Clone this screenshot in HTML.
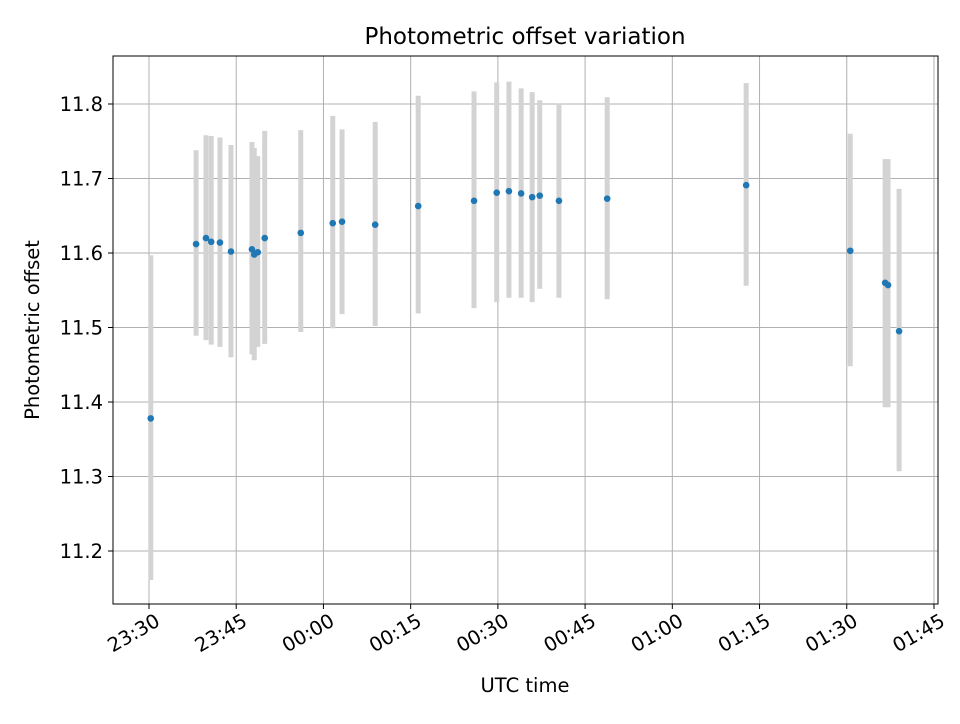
<!DOCTYPE html>
<html><head><meta charset="utf-8"><style>
body{margin:0;background:#fff;font-family:"DejaVu Sans","Liberation Sans",sans-serif}
svg text{font-family:"DejaVu Sans","Liberation Sans",sans-serif}
</style></head><body>
<svg id="chart" width="960" height="720" xmlns="http://www.w3.org/2000/svg">
<rect width="960" height="720" fill="#fff"/>
<g id="grid"></g><g id="bars"></g><g id="pts"></g><g id="axes"></g>
<text x="525" y="44" font-size="23" text-anchor="middle">Photometric offset variation</text>
<text x="525" y="692" font-size="19.5" text-anchor="middle">UTC time</text>
<text transform="translate(39,330) rotate(-90)" font-size="19.5" text-anchor="middle">Photometric offset</text>
</svg>
<script>
// minutes after 23:30 UTC
const times=[0.3,8.1,9.8,10.7,12.2,14.1,17.7,18.1,18.7,19.9,26.1,31.6,33.2,38.9,46.3,55.9,59.8,61.9,64.0,65.9,67.2,70.5,78.8,102.7,120.6,126.6,127.1,129.0];
const offsets=[11.378,11.612,11.62,11.615,11.614,11.602,11.605,11.598,11.601,11.62,11.627,11.64,11.642,11.638,11.663,11.67,11.681,11.683,11.68,11.675,11.677,11.67,11.673,11.691,11.603,11.56,11.557,11.495];
const errHigh=[11.597,11.738,11.758,11.757,11.755,11.745,11.749,11.741,11.73,11.764,11.765,11.784,11.766,11.776,11.811,11.817,11.829,11.83,11.821,11.816,11.805,11.801,11.809,11.828,11.76,11.726,11.726,11.686];
const errLow=[11.161,11.489,11.483,11.477,11.474,11.46,11.464,11.456,11.474,11.478,11.494,11.499,11.518,11.502,11.519,11.526,11.534,11.54,11.54,11.534,11.552,11.54,11.538,11.556,11.448,11.393,11.393,11.307];
const xTickLabels=["23:30","23:45","00:00","00:15","00:30","00:45","01:00","01:15","01:30","01:45"];
const yTickLabels=["11.2","11.3","11.4","11.5","11.6","11.7","11.8"];

const L=113,R=938,T=56,B=604;
const X=m=>149+m*(87.22/15);
const Y=v=>551-(v-11.2)*745;
const NS="http://www.w3.org/2000/svg";
function mk(parent,tag,attrs){const e=document.createElementNS(NS,tag);for(const k in attrs)e.setAttribute(k,attrs[k]);document.getElementById(parent).appendChild(e);return e;}

xTickLabels.forEach((lab,i)=>{const x=X(i*15);
 const g=mk('grid','line',{x1:x,x2:x,y1:T,y2:B,stroke:'#b0b0b0','stroke-width':1});
 
 
 const t=mk('axes','line',{x1:x,x2:x,y1:B,y2:B+5,stroke:'#000'});
 
 
 const tx=mk('axes','text',{x:x+5,y:B+8,'font-size':19.5,'text-anchor':'end',transform:`rotate(-30 ${x+5} ${B+8})`,dy:'0.75em'});
 tx.textContent=lab;
 
 
});
yTickLabels.forEach(lab=>{const y=Y(parseFloat(lab));
 const g=mk('grid','line',{x1:L,x2:R,y1:y,y2:y,stroke:'#b0b0b0','stroke-width':1});
 
 
 const t=mk('axes','line',{x1:L-5,x2:L,y1:y,y2:y,stroke:'#000'});
 
 
 const tx=mk('axes','text',{x:L-10,y:y+7,'font-size':19.5,'text-anchor':'end'});
 tx.textContent=lab;
 
 
});
times.forEach((m,i)=>{const x=X(m);
 const b=mk('bars','line',{x1:x,x2:x,y1:Y(errLow[i]),y2:Y(errHigh[i]),stroke:'#d3d3d3','stroke-width':5});
 
 
 const p=mk('pts','circle',{cx:x,cy:Y(offsets[i]),r:3.3,fill:'#1f77b4'});
 
 
});
const f=mk('axes','rect',{x:L,y:T,width:R-L,height:B-T,fill:'none',stroke:'#000','stroke-width':1});


</script>
</body></html>
